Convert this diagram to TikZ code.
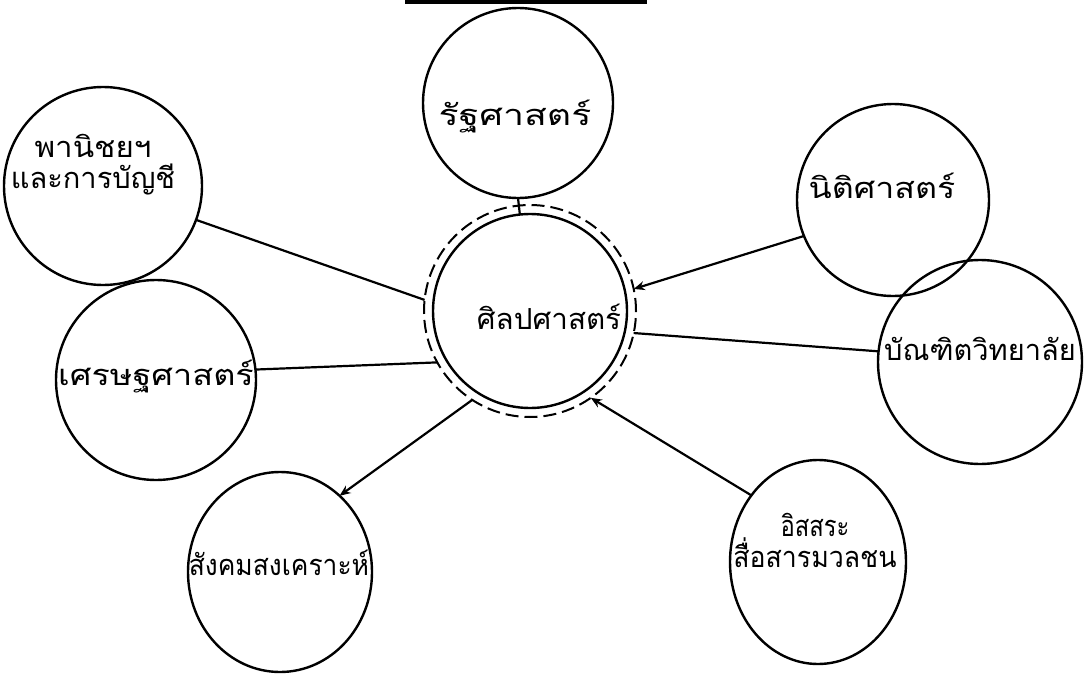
\documentclass[tikz,border=0pt]{standalone}
\usepackage{fontspec}
\newfontfamily\thaifont[Script=Thai]{Loma}
\usetikzlibrary{shapes.geometric,arrows.meta}
\newcommand{\sx}[2]{\scalebox{#1}[1]{#2}}
\begin{document}
\begin{tikzpicture}[x=1pt,y=-1pt,
  every node/.style={inner sep=0pt,outer sep=0pt},
  unit/.style={draw,circle,line width=2.4pt},
  oval/.style={draw,ellipse,line width=2.4pt},
  lbl/.style={font=\thaifont\fontsize{29}{31}\selectfont,align=center},
  link/.style={line width=2.2pt},
  tipend/.style={-{Stealth[length=11pt,width=9pt]}}]
\useasboundingbox (0,0) rectangle (1084,693);
\fill[white] (0,0) rectangle (1084,693);
% underline of a cut-off title
\coordinate (ul1) at (405,2);
\coordinate (ul2) at (647,2);
\draw[line width=4.5pt] (ul1) -- (ul2);
% units
\node[unit,minimum size=190pt] (pol) at (518,103) {};
\node[unit,minimum size=198pt] (com) at (103,186) {};
\node[unit,minimum size=200pt] (eco) at (156,380) {};
\node[oval,minimum width=184pt,minimum height=200pt] (soc) at (280,572) {};
\node[unit,minimum size=192pt] (law) at (893,200) {};
\node[unit,minimum size=204pt] (grad) at (980,362) {};
\node[oval,minimum width=176pt,minimum height=204pt] (jour) at (818,562) {};
\node[circle,draw,line width=2pt,dash pattern=on 13pt off 6pt,minimum size=212pt] (art) at (530,311) {};
\node[unit,minimum size=194pt] (arti) at (530,311) {};
% labels
\node[lbl] (tpol) at (515,117) {\sx{1.29}{รัฐศาสตร์}};
\node[lbl] (tcom) at (93,165) {\sx{1.08}{พานิชยฯ}\\และการบัญชี};
\node[lbl] (teco) at (156,377) {\sx{1.18}{เศรษฐศาสตร์}};
\node[lbl] (tart) at (549,317) {\sx{1.02}{ศิลปศาสตร์}};
\node[lbl] (tlaw) at (882,186) {\sx{1.17}{นิติศาสตร์}};
\node[lbl] (tgrad) at (980,349) {บัณฑิตวิทยาลัย};
\node[lbl] (tjour) at (815,540) {\sx{0.82}{อิสสระ}\\\sx{0.92}{สื่อสารมวลชน}};
\node[lbl] (tsoc) at (279,563) {\sx{0.91}{สังคมสงเคราะห์}};
% connectors
\draw[link] (pol.south) -- (arti.96);
\draw[link] (com.-20) -- (art.174);
\draw[link] (eco.6) -- (art.209);
\draw[link,tipend] (art.237) -- (soc.52);
\draw[link,tipend] (law.202) -- (art.12);
\draw[link] (art.-12) -- (grad.174);
\draw[link,tipend] (jour.135) -- (art.-55);
\end{tikzpicture}
\end{document}
